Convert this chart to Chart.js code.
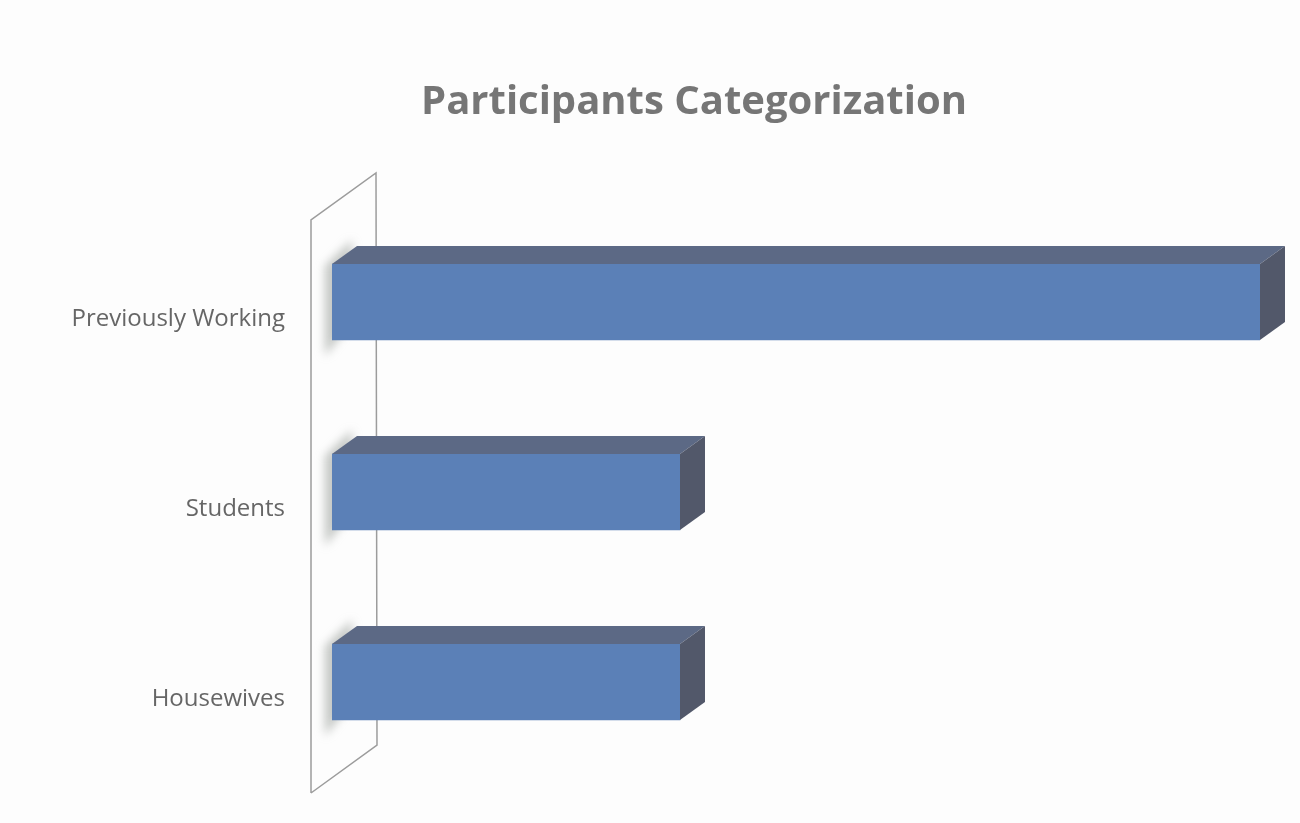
<!DOCTYPE html>
<html>
<head>
<meta charset="utf-8">
<script src="https://cdn.jsdelivr.net/npm/chart.js@4.4.1/dist/chart.umd.min.js"></script>
<style>
  html,body{margin:0;padding:0;background:#fdfdfd;}
  #wrap{width:1300px;height:823px;position:relative;}
</style>
</head>
<body>
<div id="wrap"><canvas id="c"></canvas></div>
<script>
const categories = ['Previously Working', 'Students', 'Housewives'];
const participants = [8, 3, 3];
const chartTitle = 'Participants Categorization';

// 3d look: back wall + top/side faces on each bar
const DX = 25, DY = -18;
const wall3d = {
  id: 'wall3d',
  afterLayout(chart){
    // centre the title over the plotting region + labels, like the original
    const t = chart.titleBlock;
    if(t){ t.left = 128; t.right = chart.chartArea.right; t.width = t.right - t.left; }
  },
  beforeDatasetsDraw(chart){
    const {ctx, chartArea:a} = chart;
    const x0 = chart.scales.x.getPixelForValue(0);
    ctx.save();
    ctx.strokeStyle = '#9c9c9c';
    ctx.lineWidth = 1.5;
    ctx.beginPath();
    ctx.moveTo(x0-21, a.bottom+16);
    ctx.lineTo(x0-21, a.top+13);
    ctx.lineTo(x0+44, a.top-34);
    ctx.lineTo(x0+45, a.bottom-32);
    ctx.lineTo(x0-21, a.bottom+16);
    ctx.stroke();
    // soft shadows cast on the wall
    chart.getDatasetMeta(0).data.forEach(b=>{
      const top = b.y - b.height/2, bot = b.y + b.height/2;
      ctx.save();
      ctx.filter = 'blur(5px)';
      ctx.fillStyle = 'rgba(140,145,140,0.5)';
      ctx.beginPath();
      ctx.moveTo(x0-7, top+2);
      ctx.lineTo(x0+20, top+DY-6);
      ctx.lineTo(x0+20, bot+DY);
      ctx.lineTo(x0-7, bot+16);
      ctx.closePath();
      ctx.fill();
      ctx.restore();
    });
    ctx.restore();
  },
  afterDatasetsDraw(chart){
    const {ctx} = chart;
    ctx.save();
    chart.getDatasetMeta(0).data.forEach(b=>{
      const top = b.y - b.height/2, bot = b.y + b.height/2;
      const l = b.base, r = b.x;
      ctx.fillStyle = '#5c6985';
      ctx.beginPath();
      ctx.moveTo(l, top); ctx.lineTo(r, top); ctx.lineTo(r+DX, top+DY); ctx.lineTo(l+DX, top+DY); ctx.closePath();
      ctx.fill();
      ctx.fillStyle = '#52586a';
      ctx.beginPath();
      ctx.moveTo(r, top); ctx.lineTo(r+DX, top+DY); ctx.lineTo(r+DX, bot+DY); ctx.lineTo(r, bot); ctx.closePath();
      ctx.fill();
    });
    ctx.restore();
  }
};

new Chart(document.getElementById('c'), {
  type: 'bar',
  data: {
    labels: categories,
    datasets: [{
      data: participants,
      backgroundColor: '#5b80b7',
      borderWidth: 0,
      barThickness: 76
    }]
  },
  options: {
    indexAxis: 'y',
    responsive: true,
    maintainAspectRatio: false,
    animation: false,
    layout: { padding: { left: 0, right: 40, top: 0, bottom: 46 } },
    plugins: {
      legend: { display: false },
      tooltip: { enabled: false },
      title: {
        display: true,
        text: chartTitle,
        color: '#767676',
        font: { family: 'Open Sans', size: 40, weight: 'bold' },
        padding: { top: 79, bottom: 80 }
      }
    },
    scales: {
      x: { display: false, min: 0, max: 8 },
      y: {
        afterFit: s => { s.width = 332; s.paddingTop = 0; s.paddingBottom = 0; },
        grid: { display: false },
        border: { display: false },
        ticks: {
          padding: 39,
          labelOffset: 17,
          color: '#666666',
          font: { family: 'Open Sans', size: 24 }
        }
      }
    }
  },
  plugins: [wall3d]
});
</script>
</body>
</html>
